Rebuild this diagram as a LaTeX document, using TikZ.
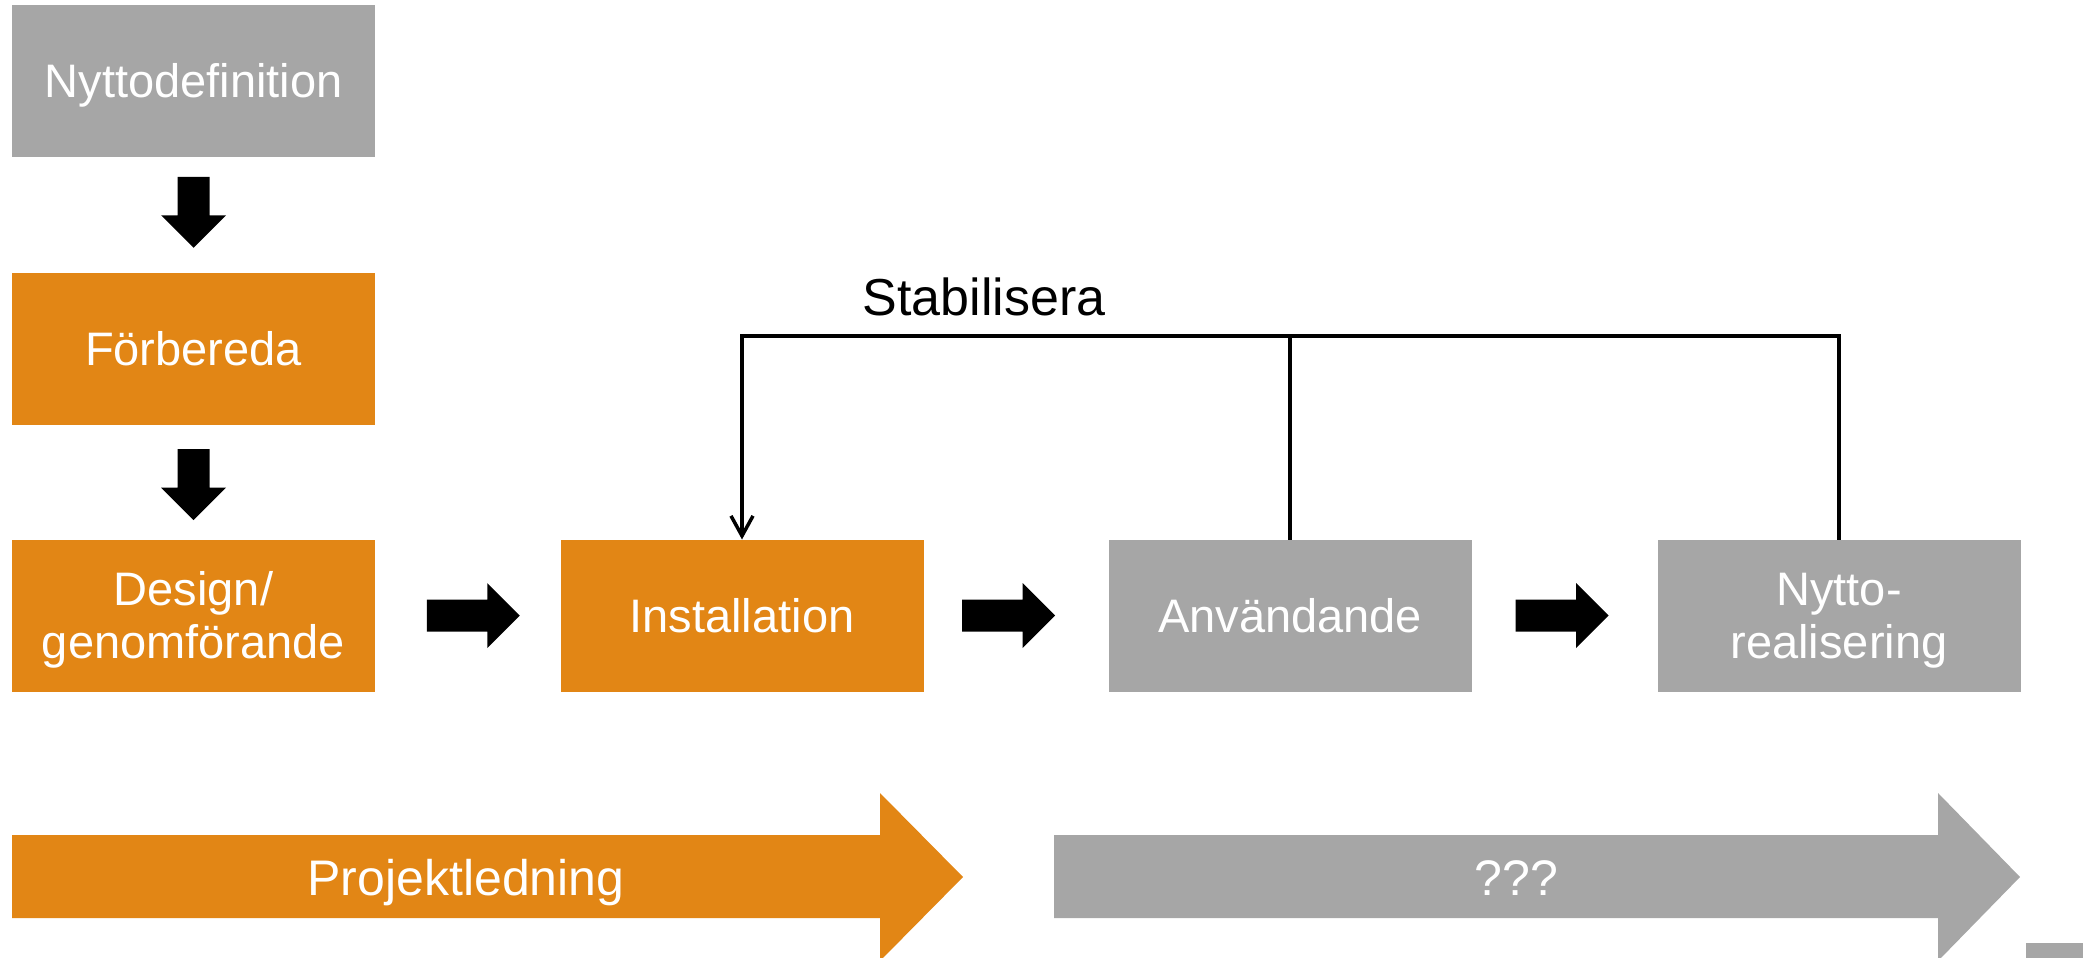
\documentclass[tikz,border=0pt]{standalone}
\usepackage{fontspec}
\setmainfont{Liberation Sans}
\usetikzlibrary{calc,arrows.meta}

\definecolor{procorange}{RGB}{226,134,21}
\definecolor{procgray}{RGB}{166,166,166}

\newcommand\bxfont{\fontsize{47}{53}\selectfont}
\newcommand\bandfont{\fontsize{50}{56}\selectfont}
\newcommand\stabfont{\fontsize{52}{58}\selectfont}

% block arrow centred at #1, pointing at angle #2, total length #3
\newcommand\blockarrow[3]{%
  \fill[blockfill, shift={(#1)}, rotate=#2]
    (-#3/2,-16) -- (#3/2-32.5,-16) -- (#3/2-32.5,-32.5) -- (#3/2,0)
    -- (#3/2-32.5,32.5) -- (#3/2-32.5,16) -- (-#3/2,16) -- cycle;}

\tikzset{
  box/.style={minimum width=363pt, minimum height=152pt, inner sep=0pt,
    outer sep=0pt, text=white, font=\bxfont, text height=33.7pt, text depth=0pt},
  twoline/.style={text height=33.7pt, text depth=53pt},
  orangebox/.style={box, fill=procorange},
  graybox/.style={box, fill=procgray},
  blockfill/.style={fill=black},
  conn/.style={draw=black, line width=3.5pt},
  bandtext/.style={text=white, font=\bandfont, inner sep=0pt, anchor=base}
}

\begin{document}
\begin{tikzpicture}[x=1pt, y=-1pt]
  \useasboundingbox (0,0) rectangle (2091,958);

  % process boxes
  \node[graybox]   (nyd)  at (193.5, 81)    {Nyttodefinition};
  \node[orangebox] (forb) at (193.5, 348.5) {Förbereda};
  \node[orangebox, twoline] (des) at (193.5, 615.5)
    {\begin{tabular}[t]{@{}c@{}}Design/\\genomförande\end{tabular}};
  \node[orangebox] (inst) at (742, 615.5)   {Installation};
  \node[graybox]   (anv)  at (1290, 615.5)  {Användande};
  \node[graybox, twoline] (nyr) at (1839, 615.5)
    {\begin{tabular}[t]{@{}c@{}}Nytto-\\realisering\end{tabular}};

  % flow arrows between the boxes
  \blockarrow{$(nyd.south)!0.5!(forb.north)+(0,-2.5)$}{-90}{71}
  \blockarrow{$(forb.south)!0.5!(des.north)+(0,2.5)$}{-90}{71}
  \blockarrow{$(des.east)!0.5!(inst.west)+(5.5,0)$}{0}{93}
  \blockarrow{$(inst.east)!0.5!(anv.west)+(-7.5,0)$}{0}{93}
  \blockarrow{$(anv.east)!0.5!(nyr.west)+(-2.5,0)$}{0}{93}

  % stabilisation feedback
  \coordinate (top) at (0,336);
  \node[font=\stabfont, inner sep=0pt, anchor=base] (stab) at (984,315) {Stabilisera};
  \draw[conn, line join=miter, -{Straight Barb[length=20pt, width=22pt]}]
    (nyr.north) -- (nyr.north |- top) -- (inst.north |- top) -- (inst.north);
  \draw[conn] (anv.north) -- (anv.north |- top);

  % phase bands
  \fill[procorange] (12,835) -- (880,835) -- (880,793) -- (963,877)
    -- (880,961) -- (880,918) -- (12,918) -- cycle;
  \node[bandtext] (proj) at (466,895) {Projektledning};
  \fill[procgray] (1054,835) -- (1938,835) -- (1938,793) -- (2020,877)
    -- (1938,961) -- (1938,918) -- (1054,918) -- cycle;
  \node[bandtext] (unk) at (1516.5,895) {???};

  \fill[procgray] (2026,943) rectangle (2083,965);
\end{tikzpicture}
\end{document}
